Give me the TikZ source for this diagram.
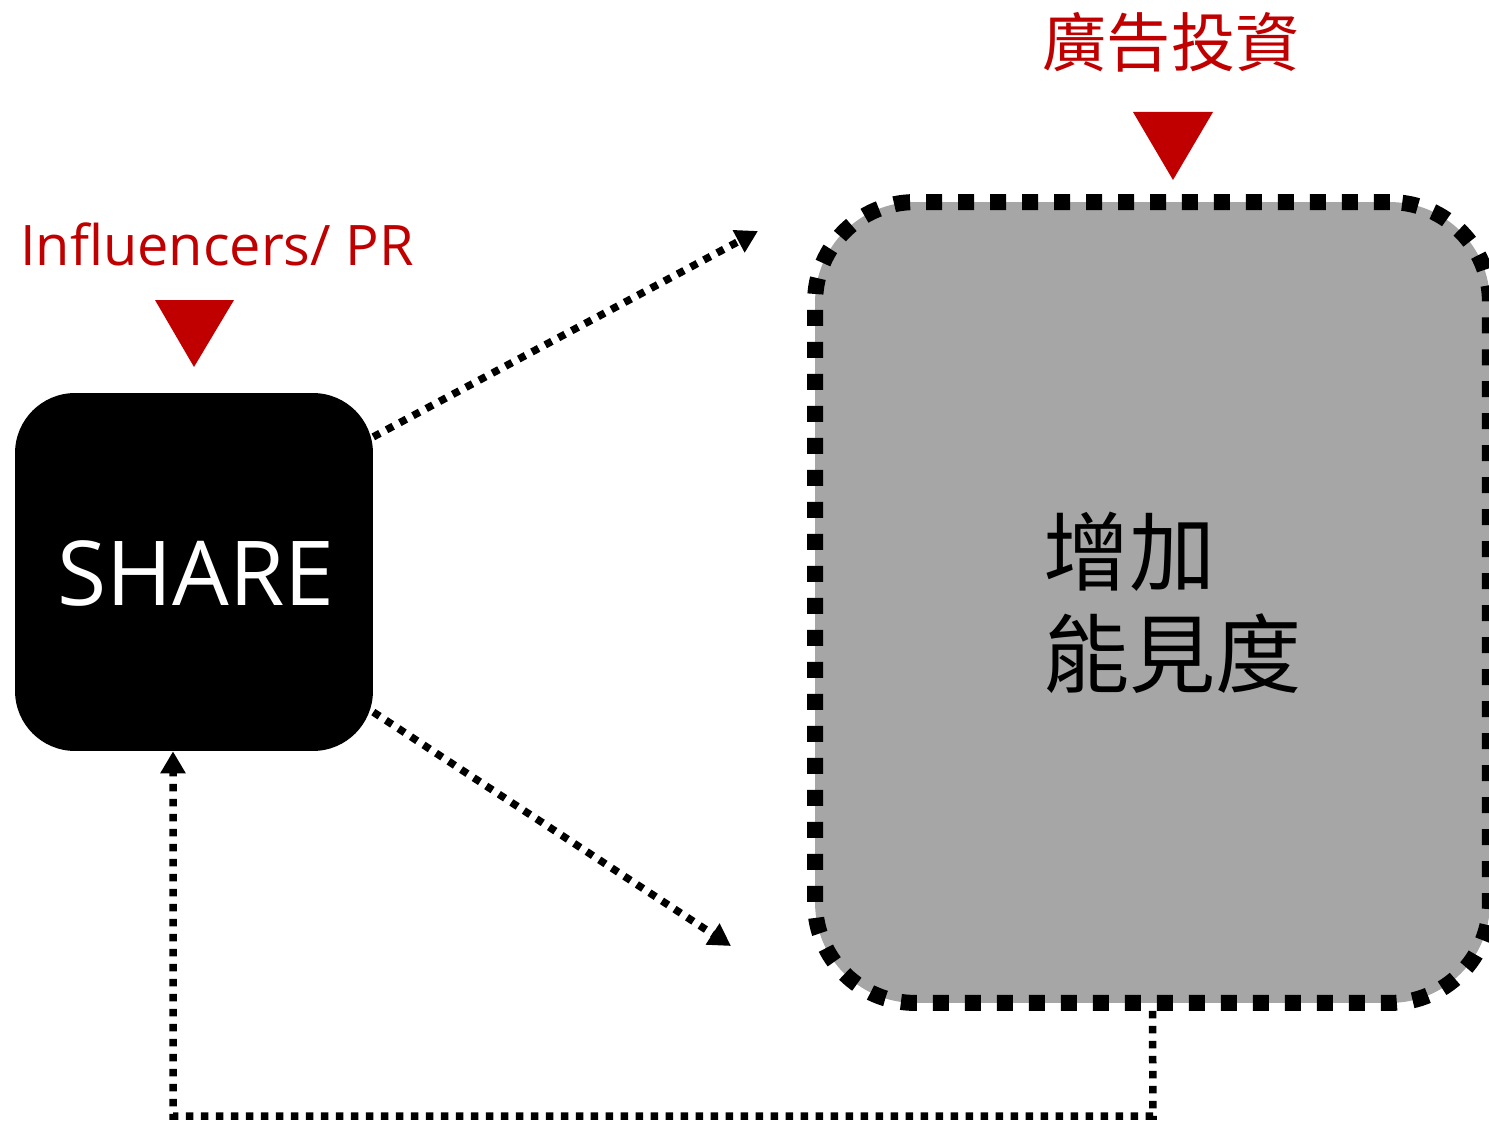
\documentclass[tikz,border=0pt]{standalone}
\usepackage{fontspec}
\setmainfont{Open Sans}
\newfontfamily\cjk{Noto Sans CJK TC}
\usetikzlibrary{arrows.meta}
\definecolor{accent}{HTML}{C00000}
\definecolor{boxgray}{HTML}{A6A6A6}
\begin{document}
\begin{tikzpicture}[x=0.02cm,y=-0.02cm,
  sharebox/.style={fill=black,rounded corners=1.2cm,minimum width=7.16cm,minimum height=7.16cm,inner sep=0pt},
  visbox/.style={fill=boxgray,draw=black,line width=0.32cm,dash pattern=on 0.32cm off 0.32cm,rounded corners=2cm,minimum width=13.5cm,minimum height=16.02cm,inner sep=0pt},
  dotline/.style={line width=0.15cm,dash pattern=on 0.15cm off 0.15cm},
  dotarrow/.style={dotline,-{Triangle[width=0.48cm,length=0.44cm]}},
  redlabel/.style={text=accent,inner sep=0pt},
  marker/.style={fill=accent}
]
\useasboundingbox (0,0) rectangle (1489,1122);

% boxes
\node[sharebox] (share) at (194,572) {};
\node[text=white,inner sep=0pt,anchor=base,font=\fontsize{51}{60}\selectfont] (sharetxt) at (196,605) {SHARE};

\node[visbox] (vis) at (1152.5,602.5) {};
\node[inner sep=0pt,anchor=west,align=left,font=\cjk\fontsize{49}{58}\selectfont] (vistxt) at (1043,603) {增加\\能見度};

% labels
\node[redlabel,anchor=base,font=\fontsize{31.8}{38}\selectfont] (inflab) at (217,265) {Influencers/ PR};
\node[redlabel,anchor=center,font=\cjk\fontsize{36.5}{44}\selectfont] (adlab) at (1171,42) {廣告投資};

% markers
\fill[marker] (155,300) -- (234,300) -- (194,367) -- cycle;
\fill[marker] (1133,112) -- (1213,112) -- (1173,180) -- cycle;

% connectors
\coordinate (upend) at (758,231);
\coordinate (downend) at (731,946);
\coordinate (b1) at (1153,1116);
\coordinate (b2) at (173,1116);
\draw[dotarrow] (share.37) -- (upend);
\draw[dotarrow] (share.-38) -- (downend);
\draw[dotarrow] (vis.south) -- (b1) -- (b2) -- (b2 |- share.south);
\end{tikzpicture}
\end{document}
